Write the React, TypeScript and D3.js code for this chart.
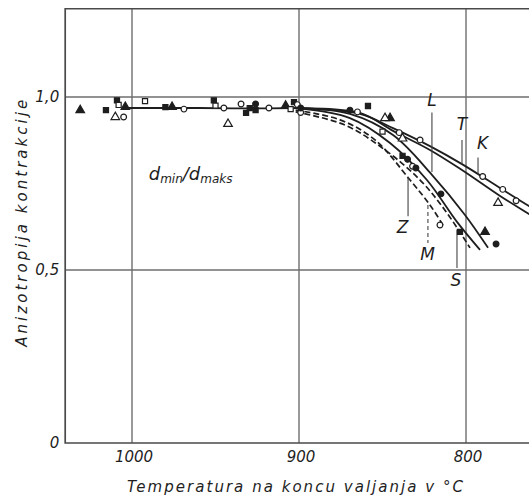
import React from 'react'
import * as d3 from 'd3'

// temperatures (°C) and anisotropy values
const xTicks = [1000, 900, 800]
const yTicks = [0, 0.5, 1.0]
const yTickLabels = ['0', '0,5', '1,0']

const commonPart: [number, number][] = [[1004, 0.968], [960, 0.968], [930, 0.967], [900, 0.968]]

const curveL: [number, number][] = [[900, 0.968], [869.5, 0.951], [843.7, 0.89], [820.4, 0.775], [800.6, 0.659], [786.8, 0.564]]
const curveS: [number, number][] = [[900, 0.967], [869.5, 0.939], [845.5, 0.867], [823.4, 0.76], [805.4, 0.639], [791.6, 0.558]]
const curveT: [number, number][] = [[900, 0.968], [863.5, 0.951], [843.7, 0.91], [821.6, 0.858], [802.4, 0.806], [779.6, 0.737], [762.3, 0.685], [750, 0.65]]
const curveK: [number, number][] = [[900, 0.968], [863.5, 0.954], [843.7, 0.902], [821.6, 0.847], [802.4, 0.789], [779.6, 0.714], [762.3, 0.662], [750, 0.625]]
const curveZ: [number, number][] = [[902, 0.962], [875.4, 0.934], [854.5, 0.876], [833.5, 0.76], [821.6, 0.688], [813.8, 0.63]]
const curveM: [number, number][] = [[902, 0.957], [872.5, 0.919], [848.5, 0.847], [827.5, 0.76], [812.6, 0.673], [797.6, 0.564]]

const solidCurves = [curveL, curveS, curveT, curveK]
const dashedCurves = [curveZ, curveM]

// curve labels: name, label position, leader line (temp, from value, to value)
const labelNames = ['L', 'T', 'K', 'Z', 'M', 'S']
const labelPos: [number, number][] = [[820.4, 0.975], [802.4, 0.905], [790, 0.85], [838, 0.607], [823, 0.53], [806, 0.455]]
const leaders: [number, number, number][] = [[820.4, 0.955, 0.783], [802.4, 0.876, 0.806], [792.8, 0.825, 0.775], [834.7, 0.769, 0.655], [822.8, 0.688, 0.578], [805.4, 0.616, 0.506]]
const dashedLeader = [false, false, false, false, true, false]

// measured points by marker type
const filledTri: [number, number][] = [[1031, 0.962], [1004, 0.971], [976, 0.971], [908, 0.975], [845.5, 0.939], [788.6, 0.61]]
const filledSq: [number, number][] = [[1015.6, 0.962], [1009, 0.99], [980, 0.971], [951, 0.99], [931.7, 0.954], [929.5, 0.968], [926, 0.962], [903, 0.985], [858.7, 0.974], [838, 0.83], [803.6, 0.61]]
const openCirc: [number, number][] = [[1005, 0.942], [968.9, 0.965], [945, 0.968], [934.7, 0.98], [918, 0.968], [901, 0.978], [899, 0.955], [865, 0.957], [840, 0.897], [827.5, 0.876], [790, 0.77], [778, 0.733], [815.6, 0.63], [832, 0.8], [770, 0.7]]
const openSq: [number, number][] = [[1008, 0.977], [992.2, 0.988], [950, 0.975], [905, 0.965], [850, 0.9]]
const openTri: [number, number][] = [[1010, 0.942], [942.5, 0.922], [848.5, 0.939], [780.8, 0.694], [838, 0.88]]
const filledCirc: [number, number][] = [[926, 0.98], [899, 0.968], [869.5, 0.962], [835, 0.82], [830, 0.795], [782, 0.575], [815, 0.72]]

const ink = '#1e1e1e'
const gridColor = '#6e6e6e'
const font = "'DejaVu Sans', sans-serif"

export default function App() {
  const width = 529
  const height = 500

  const x = d3.scaleLinear().domain([1000, 800]).range([132, 466])
  const y = d3.scaleLinear().domain([0, 1]).range([443, 97])

  const left = x(1040)
  const top = y(1.255)
  const bottom = y(0)

  const line = d3.line<[number, number]>()
    .x(d => x(d[0]))
    .y(d => y(d[1]))
    .curve(d3.curveCatmullRom.alpha(0.5))

  const markerSets = [
    { data: filledTri, type: d3.symbolTriangle, size: 32, fill: ink },
    { data: filledSq, type: d3.symbolSquare, size: 26, fill: ink },
    { data: openCirc, type: d3.symbolCircle, size: 26, fill: '#fff' },
    { data: openSq, type: d3.symbolSquare, size: 26, fill: '#fff' },
    { data: openTri, type: d3.symbolTriangle, size: 32, fill: '#fff' },
    { data: filledCirc, type: d3.symbolCircle, size: 26, fill: ink },
  ]

  return (
    <svg width={width} height={height} style={{ position: 'absolute', left: 0, top: 0, background: '#fff' }}>
      {/* grid */}
      {xTicks.map(t => (
        <line key={'gx' + t} x1={x(t)} x2={x(t)} y1={top} y2={bottom} stroke={gridColor} strokeWidth={1.4} />
      ))}
      {yTicks.filter(t => t > 0).map(t => (
        <line key={'gy' + t} x1={left} x2={width} y1={y(t)} y2={y(t)} stroke={gridColor} strokeWidth={1.4} />
      ))}
      {/* frame */}
      <path d={`M${width},${top}H${left}V${bottom}H${width}`} fill="none" stroke="#4a4a4a" strokeWidth={1.7} />

      {/* curves */}
      <path d={line(commonPart) || ''} fill="none" stroke={ink} strokeWidth={1.9} />
      {solidCurves.map((c, i) => (
        <path key={'s' + i} d={line(c) || ''} fill="none" stroke={ink} strokeWidth={1.8} />
      ))}
      {dashedCurves.map((c, i) => (
        <path key={'d' + i} d={line(c) || ''} fill="none" stroke={ink} strokeWidth={1.7} strokeDasharray="6,3" />
      ))}

      {/* leaders and labels */}
      {leaders.map((l, i) => (
        <line key={'ld' + i} x1={x(l[0])} x2={x(l[0])} y1={y(l[1])} y2={y(l[2])} stroke="#444" strokeWidth={1.1}
          strokeDasharray={dashedLeader[i] ? '4,3' : undefined} />
      ))}
      {labelNames.map((n, i) => (
        <text key={'lb' + n} x={x(labelPos[i][0])} y={y(labelPos[i][1])} textAnchor="middle" fontFamily={font}
          fontStyle="italic" fontSize={17} fill={ink}>{n}</text>
      ))}

      {/* markers */}
      {markerSets.map((m, j) => m.data.map((d, i) => (
        <path key={'m' + j + '-' + i} transform={`translate(${x(d[0])},${y(d[1])})`}
          d={d3.symbol().type(m.type).size(m.size)() || ''} fill={m.fill} stroke={ink} strokeWidth={1.2} />
      )))}

      {/* ratio label */}
      <text x={x(990)} y={y(0.76)} fontFamily={font} fontStyle="italic" fontSize={18} fill={ink}>
        d<tspan fontSize={12} dy={3}>min</tspan><tspan fontSize={18} dy={-3}>/d</tspan><tspan fontSize={12} dy={3}>maks</tspan>
      </text>

      {/* tick labels */}
      {xTicks.map(t => (
        <text key={'tx' + t} x={x(t) + 2} y={bottom + 19} textAnchor="middle" fontFamily={font} fontStyle="italic"
          fontSize={15} fill={ink}>{t}</text>
      ))}
      {yTicks.map((t, i) => (
        <text key={'ty' + t} x={left - 6} y={y(t) + 5} textAnchor="end" fontFamily={font} fontStyle="italic"
          fontSize={15} fill={ink}>{yTickLabels[i]}</text>
      ))}

      {/* axis titles */}
      <text x={295} y={492} textAnchor="middle" fontFamily={font} fontStyle="italic" fontSize={15} fill={ink}
        textLength={336} lengthAdjust="spacing">Temperatura  na  koncu  valjanja  v  °C</text>
      <text transform={`translate(27,${y(0.635)}) rotate(-90)`} textAnchor="middle" fontFamily={font} fontStyle="italic"
        fontSize={15} fill={ink} textLength={247} lengthAdjust="spacing">Anizotropija  kontrakcije</text>
    </svg>
  )
}
